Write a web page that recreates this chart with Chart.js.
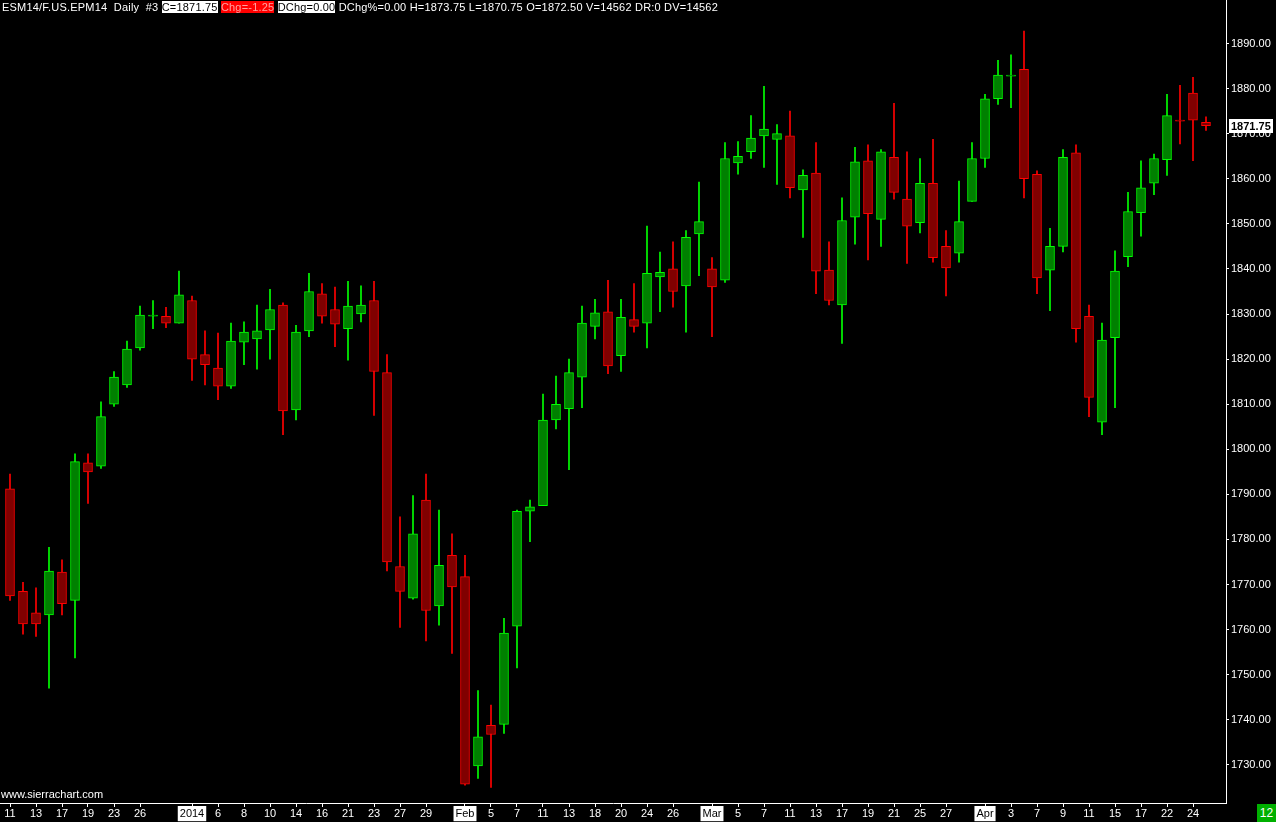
<!DOCTYPE html>
<html>
<head>
<meta charset="utf-8">
<script src="https://cdn.jsdelivr.net/npm/chart.js@4"></script>
<style>
  html, body { margin: 0; padding: 0; background: #000; }
  #wrap { position: relative; width: 1276px; height: 822px; background: #000; overflow: hidden; }
  #c { position: absolute; left: 0; top: 0; }
  .txt { position: absolute; font: 11px 'Liberation Sans', Arial, sans-serif; color: #fff; white-space: pre; line-height: 15px; }
  #hdr { letter-spacing: 0.2px; }
  .w { background: #fff; color: #000; }
  .r { background: #f00; color: #ffa0a0; }
  #bar12 { position: absolute; left: 1257px; top: 804px; width: 19px; height: 18px; background: #00b000; color: #fff;
           font: 12px 'Liberation Sans', Arial, sans-serif; text-align: center; line-height: 18px; }
</style>
</head>
<body>
<div id="wrap">
  <canvas id="c" width="1276" height="822"></canvas>
  <div class="txt" id="hdr" style="left:2px;top:0">ESM14/F.US.EPM14  Daily  #3 <span class="w">C=1871.75</span> <span class="r">Chg=-1.25</span> <span class="w">DChg=0.00</span> DChg%=0.00 H=1873.75 L=1870.75 O=1872.50 V=14562 DR:0 DV=14562</div>
  <div class="txt" style="left:1px;top:787px">www.sierrachart.com</div>
  <div id="bar12">12</div>
</div>
<script>
// daily bars, 11 Dec 2013 .. 25 Apr 2014 (93 sessions)
const opens = [
  1791.25, 1768.5, 1763.75, 1763.25, 1772.75, 1766.5, 1797, 1796.25, 1810, 1814.25,
  1822.5, 1829.5, 1829.5, 1828, 1833, 1821, 1818, 1814, 1823.75, 1824.5,
  1826.5, 1832, 1808.75, 1826.25, 1834.5, 1831, 1826.75, 1830, 1833, 1817,
  1774, 1767, 1788.75, 1765.25, 1776.5, 1771.75, 1729.75, 1738.75, 1739, 1760.75,
  1786.25, 1787.5, 1806.5, 1809, 1816, 1827.25, 1830.5, 1820.75, 1828.75, 1828,
  1838.25, 1840, 1836.25, 1847.75, 1840, 1837.5, 1863.5, 1866, 1869.5, 1868.75,
  1869.5, 1857.5, 1861.25, 1839.75, 1832, 1851.5, 1864, 1851, 1864.75, 1855.5,
  1850.25, 1859, 1845, 1843.5, 1855, 1864.5, 1877.75, 1882.75, 1884.25, 1861,
  1839.75, 1845, 1865.75, 1829.5, 1806, 1824.75, 1842.75, 1852.5, 1859, 1864.25,
  1873, 1879, 1872.5
];
const highs = [
  1794.5, 1770.5, 1769.25, 1778.25, 1775.5, 1799, 1799, 1810.5, 1817.25, 1824,
  1831.75, 1833, 1831.5, 1839.5, 1834, 1826.25, 1825.75, 1828, 1828.25, 1832,
  1835.5, 1832.5, 1827.5, 1839, 1836.75, 1836, 1837.25, 1836.25, 1837.25, 1821,
  1785, 1789.75, 1794.5, 1786.5, 1781.25, 1776.5, 1746.5, 1743.25, 1762.5, 1786.5,
  1788.75, 1812.25, 1816.25, 1820, 1831.75, 1833.25, 1837.5, 1833.25, 1836.75, 1849.5,
  1843.75, 1846, 1848.5, 1859.25, 1842.5, 1868, 1868.25, 1874, 1880.5, 1872,
  1875, 1862, 1868, 1846, 1855.75, 1867, 1867.5, 1866.5, 1876.75, 1866,
  1864.5, 1868.75, 1848.5, 1859.5, 1868, 1878.75, 1886.25, 1887.5, 1892.75, 1861.75,
  1849, 1866.5, 1867.5, 1832, 1828, 1844, 1857, 1864, 1865.5, 1878.75,
  1880.75, 1882.5, 1873.75
];
const lows = [
  1766.5, 1759, 1758.5, 1747, 1763.25, 1753.75, 1788, 1795.75, 1809.5, 1813.75,
  1822, 1826.75, 1827, 1828, 1815.25, 1814.25, 1811, 1813.5, 1818.75, 1817.75,
  1820, 1803.25, 1806.5, 1825, 1828, 1822.75, 1819.75, 1828.25, 1807.5, 1773,
  1760.5, 1766.75, 1757.5, 1761, 1754.75, 1725.5, 1727, 1725, 1737, 1751.5,
  1779.5, 1787.5, 1804.5, 1795.5, 1809.25, 1824.5, 1816.75, 1817.25, 1826, 1822.5,
  1830.5, 1831.5, 1826, 1838.5, 1825, 1837, 1861, 1864.5, 1862.5, 1858.75,
  1855.75, 1847, 1834.5, 1832, 1823.5, 1845.5, 1842, 1845, 1855.5, 1841.25,
  1848, 1841.5, 1834, 1841.5, 1855, 1862.5, 1876.5, 1875.75, 1855.75, 1834.5,
  1830.75, 1843.75, 1823.75, 1807.25, 1803.25, 1809.25, 1840.5, 1847.25, 1856.5, 1860.75,
  1867.75, 1864, 1870.75
];
const closes = [
  1767.5, 1761.25, 1761.25, 1773, 1765.75, 1797.25, 1795, 1807.25, 1816, 1822.25,
  1829.75, 1829.75, 1828, 1834.25, 1820, 1818.75, 1814, 1824, 1826, 1826.25,
  1831, 1808.5, 1826, 1835, 1829.5, 1827.75, 1831.75, 1832, 1817.25, 1775,
  1768.5, 1781.25, 1764.25, 1774.25, 1769.5, 1725.75, 1736.25, 1736.75, 1759.25, 1786.25,
  1787.25, 1806.5, 1810, 1817, 1828, 1830.25, 1818.5, 1829.25, 1827.25, 1839,
  1839.25, 1835, 1847, 1850.5, 1836, 1864.5, 1865, 1869, 1871, 1870,
  1858, 1860.75, 1839.5, 1833, 1850.75, 1863.75, 1852.25, 1866, 1857, 1849.5,
  1859, 1842.5, 1840.25, 1850.5, 1864.5, 1877.75, 1883, 1883, 1860, 1838,
  1845, 1864.75, 1826.75, 1811.5, 1824.25, 1839.5, 1852.75, 1858, 1864.5, 1874,
  1872.75, 1873, 1871.75
];

// labelled sessions on the date axis
const tickIdx = [0, 2, 4, 6, 8, 10, 14, 16, 18, 20, 22, 24, 26, 28, 30, 32, 35, 37, 39, 41, 43, 45,
  47, 49, 51, 54, 56, 58, 60, 62, 64, 66, 68, 70, 72, 75, 77, 79, 81, 83, 85, 87, 89, 91];
const tickText = ['11', '13', '17', '19', '23', '26', '2014', '6', '8', '10', '14', '16', '21', '23', '27', '29',
  'Feb', '5', '7', '11', '13', '18', '20', '24', '26', 'Mar', '5', '7', '11', '13', '17', '19', '21', '25', '27',
  'Apr', '3', '7', '9', '11', '15', '17', '22', '24'];
const monthLabels = ['2014', 'Feb', 'Mar', 'Apr'];

const isUp = i => closes[i] >= opens[i];
const FONT = { family: "'Liberation Sans', Arial, sans-serif", size: 11 };

// last price box on the right axis
const lastPrice = {
  id: 'lastPrice',
  afterDraw(chart) {
    const ctx = chart.ctx;
    const v = closes[closes.length - 1];
    const y = Math.round(chart.scales.y.getPixelForValue(v));
    ctx.save();
    ctx.fillStyle = '#fff';
    ctx.fillRect(1229, y - 7, 44, 14);
    ctx.fillStyle = '#000';
    ctx.font = "bold 11px 'Liberation Sans', Arial, sans-serif";
    ctx.textBaseline = 'middle';
    ctx.fillText(v.toFixed(2), 1231, y + 0.5);
    ctx.restore();
  }
};

new Chart(document.getElementById('c'), {
  type: 'bar',
  data: {
    datasets: [
      {
        // bodies (drawn on top)
        data: opens.map((o, i) => ({ x: i, y: [o, closes[i]] })),
        backgroundColor: c => isUp(c.dataIndex) ? '#008000' : '#800000',
        borderColor: c => isUp(c.dataIndex) ? '#00ff00' : '#ff0000',
        borderWidth: 1,
        borderSkipped: false,
        barThickness: 9,
      },
      {
        // wicks
        data: lows.map((l, i) => ({ x: i, y: [l, highs[i]] })),
        backgroundColor: c => isUp(c.dataIndex) ? '#00ff00' : '#ff0000',
        borderWidth: 0,
        barThickness: 1,
      },
    ],
  },
  options: {
    responsive: false,
    animation: false,
    devicePixelRatio: 1,
    grouped: false,
    layout: { padding: 0 },
    plugins: { legend: { display: false }, tooltip: { enabled: false } },
    scales: {
      x: {
        type: 'linear',
        offset: false,
        min: -10 / 13,
        max: 92 + 20 / 13,
        afterBuildTicks: s => { s.ticks = tickIdx.map(v => ({ value: v })); },
        afterFit: s => { s.height = 19; s.paddingLeft = 0; s.paddingRight = 0; },
        grid: { display: true, offset: false, drawOnChartArea: false, drawTicks: true, tickLength: 4, color: '#fff' },
        border: { display: true, color: '#fff', width: 1 },
        ticks: {
          autoSkip: false,
          maxRotation: 0,
          padding: 0,
          font: FONT,
          callback: v => tickText[tickIdx.indexOf(v)],
          color: c => monthLabels.includes(tickText[c.index]) ? '#000' : '#fff',
          showLabelBackdrop: true,
          backdropColor: c => monthLabels.includes(tickText[c.index]) ? '#fff' : 'rgba(0,0,0,0)',
          backdropPadding: { left: 2, right: 2, top: 1, bottom: 1 },
        },
      },
      y: {
        position: 'right',
        min: 1721.55,
        max: 1899.65,
        afterFit: s => { s.width = 50; s.paddingTop = 0; s.paddingBottom = 0; },
        grid: { display: true, drawOnChartArea: false, drawTicks: true, tickLength: 3, color: '#fff' },
        border: { display: true, color: '#fff', width: 1 },
        ticks: {
          stepSize: 10,
          includeBounds: false,
          padding: 2,
          font: FONT,
          color: '#fff',
          callback: v => v.toFixed(2),
        },
      },
    },
  },
  plugins: [lastPrice],
});
</script>
</body>
</html>
